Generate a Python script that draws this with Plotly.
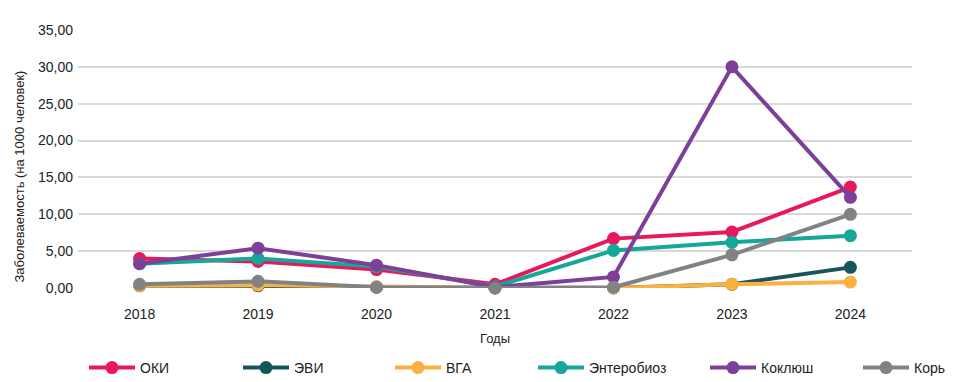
import plotly.graph_objects as go

years = ["2018", "2019", "2020", "2021", "2022", "2023", "2024"]

oki = [4.0, 3.6, 2.5, 0.5, 6.7, 7.6, 13.7]
evi = [0.3, 0.3, 0.1, 0.0, 0.0, 0.5, 2.8]
vga = [0.3, 0.4, 0.2, 0.0, 0.0, 0.5, 0.8]
entero = [3.3, 4.0, 2.9, 0.2, 5.1, 6.2, 7.1]
koklyush = [3.3, 5.4, 3.1, 0.1, 1.5, 30.0, 12.3]
kor = [0.5, 0.9, 0.1, 0.0, 0.1, 4.5, 10.0]

names = ["ОКИ", "ЭВИ", "ВГА", "Энтеробиоз", "Коклюш", "Корь"]
series = [oki, evi, vga, entero, koklyush, kor]
colors = ["#E8195A", "#17555A", "#FBB040", "#14A79A", "#7D3F98", "#818285"]
legend_x_px = [84, 238, 390, 533, 705, 858]

W, H = 970, 382
L, R, T, B = 78, 58, 30, 94
fig = go.Figure()
for i, (n, s, c) in enumerate(zip(names, series, colors)):
    lid = "legend" if i == 0 else f"legend{i+1}"
    fig.add_trace(go.Scatter(
        x=years, y=s, name=n, mode="lines+markers",
        line=dict(color=c, width=4),
        marker=dict(color=c, size=13),
        cliponaxis=False,
        legend=lid,
    ))

font_family = "Liberation Sans, Arial, sans-serif"
layout_legends = {}
for i, px in enumerate(legend_x_px):
    lid = "legend" if i == 0 else f"legend{i+1}"
    layout_legends[lid] = dict(
        x=px / W, xref="container", xanchor="left",
        y=(H - 368) / H, yref="container", yanchor="middle",
        orientation="h", itemwidth=46,
        font=dict(family=font_family, size=14, color="#222222"),
        bgcolor="rgba(0,0,0,0)", borderwidth=0,
    )

plot_w = W - L - R
plot_h = H - T - B
fig.update_layout(
    width=W, height=H,
    margin=dict(l=L, r=R, t=T, b=B, autoexpand=False),
    paper_bgcolor="white", plot_bgcolor="white",
    separators=", ",
    font=dict(family=font_family, size=13, color="#222222"),
    showlegend=True,
    annotations=[dict(
        text="Заболеваемость (на 1000 человек)", textangle=-90,
        xref="paper", yref="paper",
        x=(18.5 - L) / plot_w, y=(H - B - 177) / plot_h,
        xanchor="center", yanchor="middle", showarrow=False,
        font=dict(family=font_family, size=13, color="#222222"),
    )],
    **layout_legends,
)
fig.update_xaxes(
    type="category", range=[-0.52, 6.52], automargin=False,
    showgrid=False, zeroline=False, showline=False,
    ticks="", tickfont=dict(size=14, color="#222222"),
    ticklabelstandoff=16,
    title=dict(text="Годы", font=dict(size=13, color="#222222"), standoff=12),
)
fig.update_yaxes(
    range=[0, 35], dtick=5, tickformat=".2f", automargin=False,
    showgrid=True, gridcolor="#D9D9D9", gridwidth=1.5,
    zeroline=False, showline=False, ticks="",
    tickfont=dict(size=14, color="#222222"),
    ticklabelstandoff=4,
)

fig.write_html("out.html", config={"displayModeBar": False},
               post_script="document.body.style.margin='0';")
